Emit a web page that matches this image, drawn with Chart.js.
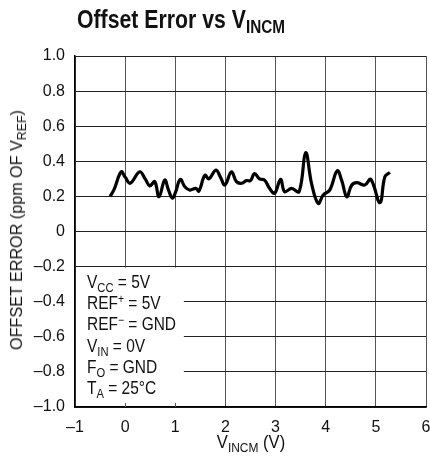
<!DOCTYPE html>
<html>
<head>
<meta charset="utf-8">
<script src="https://cdn.jsdelivr.net/npm/chart.js@4.4.0/dist/chart.umd.min.js"></script>
<style>
  body { margin: 0; background: #fff; }
  #wrap { position: relative; width: 430px; height: 466px; font-family: 'Liberation Sans', Arial, sans-serif; color: #111; }
  #chart { position: absolute; left: 0; top: 0; }
  .title { position: absolute; left: 77px; top: 5px; font-size: 25px; font-weight: bold; white-space: nowrap; transform: scaleX(0.85); transform-origin: left center; }
  .title sub { font-size: 18px; vertical-align: -5px; }
  .xlab { position: absolute; left: 251px; top: 432px; font-size: 18px; white-space: nowrap; transform: translateX(-50%) scaleX(0.92); }
  .ylab { position: absolute; left: 17px; top: 231px; width: 300px; margin-left: -150px; margin-top: -11px; text-align: center; font-size: 17px; white-space: nowrap; transform: rotate(-90deg) scaleX(0.95); }
  .xlab sub, .ylab sub, .note sub { font-size: 13px; vertical-align: -4px; line-height: 0; }
  .note sup { font-size: 12px; vertical-align: 6px; line-height: 0; }
  .note { position: absolute; left: 87px; top: 272px; font-size: 18px; white-space: nowrap; transform: scaleX(0.86); transform-origin: left top; }
  .note div { height: 21.2px; line-height: 21.2px; }
</style>
</head>
<body>
<div id="wrap">
  <canvas id="chart" width="430" height="466"></canvas>
  <div class="title">Offset Error vs V<sub>INCM</sub></div>
  <div class="xlab">V<sub>INCM</sub> (V)</div>
  <div class="ylab">OFFSET ERROR (ppm OF V<sub>REF</sub>)</div>
  <div class="note">
    <div>V<sub>CC</sub> = 5V</div>
    <div>REF<sup>+</sup> = 5V</div>
    <div>REF<sup>&minus;</sup> = GND</div>
    <div>V<sub>IN</sub> = 0V</div>
    <div>F<sub>O</sub> = GND</div>
    <div>T<sub>A</sub> = 25°C</div>
  </div>
</div>
<script>
// data
var vincm = [-0.30, -0.22, -0.08, 0.00, 0.10, 0.29, 0.40, 0.49, 0.59, 0.675, 0.79, 0.86, 0.94, 1.00, 1.10, 1.19, 1.29, 1.41, 1.47, 1.59, 1.67, 1.81, 1.90, 1.99, 2.12, 2.22, 2.32, 2.42, 2.50, 2.58, 2.68, 2.78, 2.88, 2.98, 3.10, 3.18, 3.32, 3.47, 3.60, 3.72, 3.85, 3.95, 4.08, 4.23, 4.32, 4.42, 4.52, 4.62, 4.78, 4.90, 5.08, 5.18, 5.28];
var offsetErr = [0.20, 0.24, 0.34, 0.31, 0.275, 0.34, 0.30, 0.26, 0.284, 0.198, 0.293, 0.24, 0.19, 0.22, 0.297, 0.255, 0.236, 0.246, 0.23, 0.32, 0.30, 0.35, 0.31, 0.265, 0.34, 0.284, 0.275, 0.29, 0.29, 0.33, 0.30, 0.293, 0.246, 0.218, 0.297, 0.227, 0.246, 0.227, 0.449, 0.27, 0.16, 0.208, 0.236, 0.346, 0.29, 0.198, 0.265, 0.278, 0.265, 0.297, 0.164, 0.312, 0.337];
var xTicks = [-1, 0, 1, 2, 3, 4, 5, 6];
var yTicks = [-1.0, -0.8, -0.6, -0.4, -0.2, 0, 0.2, 0.4, 0.6, 0.8, 1.0];

var pts = [];
for (var i = 0; i < vincm.length; i++) pts.push({ x: vincm[i], y: offsetErr[i] });

var tickFont = { family: "'Liberation Sans', Arial, sans-serif", size: 16 };

// white box behind the conditions text
var notePlugin = {
  id: 'noteBox',
  beforeDatasetsDraw: function (chart) {
    var c = chart.ctx, xs = chart.scales.x, ys = chart.scales.y;
    var l = xs.getPixelForValue(-1) + 1, r = xs.getPixelForValue(1.17);
    var t = ys.getPixelForValue(-0.2) + 1, b = ys.getPixelForValue(-1) - 1;
    c.save();
    c.fillStyle = '#fff';
    c.fillRect(l, t, r - l, b - t);
    c.strokeStyle = '#555';
    c.lineWidth = 1;
    [0, 1].forEach(function (v) {
      var px = Math.round(xs.getPixelForValue(v)) + 0.5;
      c.beginPath(); c.moveTo(px, b + 1); c.lineTo(px, b - 3); c.stroke();
    });
    c.restore();
  }
};

new Chart(document.getElementById('chart'), {
  type: 'line',
  data: {
    datasets: [{
      data: pts,
      borderColor: '#000',
      borderWidth: 3.2,
      pointRadius: 0,
      tension: 0.4,
      fill: false
    }]
  },
  options: {
    responsive: false,
    animation: false,
    layout: { padding: { top: 56, right: 4, left: 0, bottom: 0 } },
    plugins: { legend: { display: false }, tooltip: { enabled: false } },
    scales: {
      x: {
        type: 'linear', min: -1, max: 6,
        afterBuildTicks: function (s) { s.ticks = xTicks.map(function (v) { return { value: v }; }); },
        afterFit: function (s) { s.height = 59; s.paddingLeft = 0; s.paddingRight = 0; },
        ticks: {
          color: '#111', font: tickFont, padding: 11, maxRotation: 0,
          callback: function (v) { return String(v).replace('-', '\u2013'); }
        },
        grid: { color: '#555', lineWidth: 1, tickLength: 0 },
        border: { color: '#000', width: 1.5 }
      },
      y: {
        min: -1, max: 1,
        afterBuildTicks: function (s) { s.ticks = yTicks.map(function (v) { return { value: v }; }); },
        afterFit: function (s) { s.width = 75; },
        ticks: {
          color: '#111', font: tickFont, padding: 10,
          callback: function (v) { return (v === 0 ? '0' : v.toFixed(1)).replace('-', '\u2013'); }
        },
        grid: { color: '#222', lineWidth: 1, tickLength: 0 },
        border: { color: '#000', width: 1.5 }
      }
    }
  },
  plugins: [notePlugin]
});
</script>
</body>
</html>
